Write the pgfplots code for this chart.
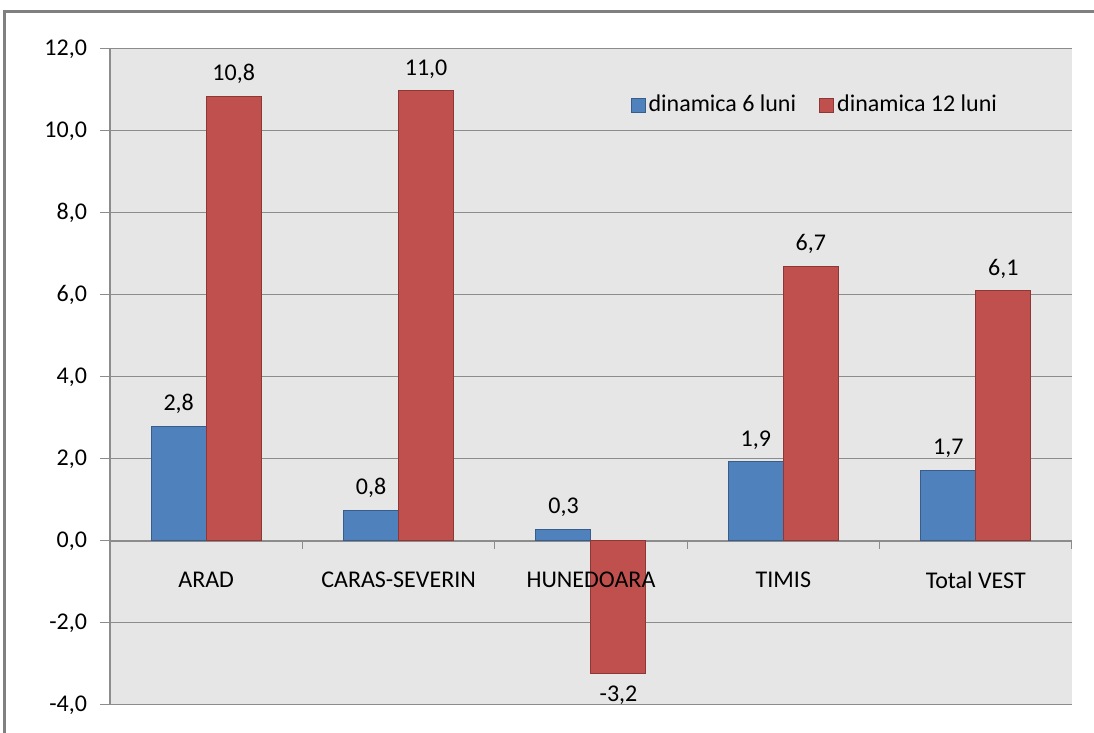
\documentclass[border=0pt]{standalone}
\usepackage{fontspec}
\setmainfont{Carlito}
\usepackage{pgfplots}
\pgfplotsset{compat=1.18}
\definecolor{bgc}{HTML}{E6E6E6}
\definecolor{gridc}{HTML}{8C8C8C}
\definecolor{blueb}{HTML}{4F81BD}
\definecolor{blueedge}{HTML}{385D8A}
\definecolor{redb}{HTML}{C0504D}
\definecolor{rededge}{HTML}{8C3836}
\definecolor{framec}{HTML}{808080}
\begin{document}
\begin{tikzpicture}[font=\fontsize{12}{14}\selectfont]
\useasboundingbox (-55pt,-14pt) rectangle (492pt,352.5pt);
\draw[framec, line width=1.5pt] (-52.5pt,-20pt) -- (-52.5pt,346.5pt) -- (500pt,346.5pt);
\begin{axis}[
  width=481pt, height=328pt, scale only axis,
  at={(0pt,0pt)}, anchor=south west,
  xmin=-0.5, xmax=4.5, ymin=-4, ymax=12,
  axis background/.style={fill=bgc},
  axis x line*=middle, axis y line*=left,
  axis line style={gridc, line width=0.6pt},
  x axis line style={line width=1.1pt},
  /pgf/number format/.cd, fixed, fixed zerofill, precision=1, use comma, assume math mode=true,
  /pgfplots/.cd,
  ytick={-4,-2,...,12},
  ymajorgrids, major grid style={gridc, line width=0.5pt},
  tick align=outside, major tick length=5pt,
  ytick style={gridc, line width=0.5pt},
  yticklabel style={xshift=-3pt},
  xtick={0,1,2,3,4},
  xticklabels={},
  xtick style={draw=none},
  extra x ticks={0.5,1.5,2.5,3.5,4.5},
  extra x tick labels={},
  extra x tick style={xtick style={draw=gridc, line width=0.5pt}, major tick length=4pt, grid=none},
  ybar=0pt, bar width=27.5pt,
  nodes near coords,
  every node near coord/.append style={inner sep=6pt, font=\fontsize{12}{14}\selectfont},
  legend style={at={(0.5345,0.9146)}, anchor=west, draw=none, fill=none,
    legend columns=2, font=\fontsize{12}{14}\selectfont,
    /tikz/every even column/.append style={column sep=10pt},
    nodes={inner sep=1.5pt}},
  clip=false,
]
\addplot[fill=blueb, draw=blueedge, line width=0.5pt,
  legend image code/.code={\draw[fill=blueb, draw=blueedge, line width=0.5pt] (0pt,-3.5pt) rectangle (7pt,3.5pt);}]
  coordinates {(0,2.8) (1,0.75) (2,0.28) (3,1.93) (4,1.73)};
\addplot[fill=redb, draw=rededge, line width=0.5pt,
  legend image code/.code={\draw[fill=redb, draw=rededge, line width=0.5pt] (0pt,-3.5pt) rectangle (7pt,3.5pt);}]
  coordinates {(0,10.84) (1,10.98) (2,-3.22) (3,6.7) (4,6.1)};
\legend{dinamica 6 luni, dinamica 12 luni}
\end{axis}
% overlay axis: category labels drawn on top of the bars
\begin{axis}[
  width=481pt, height=328pt, scale only axis,
  at={(0pt,0pt)}, anchor=south west,
  xmin=-0.5, xmax=4.5, ymin=-4, ymax=12,
  axis x line*=middle, axis y line=none,
  axis line style={draw=none},
  ytick=\empty,
  xtick={0,1,2,3,4},
  xticklabels={ARAD,CARAS-SEVERIN,HUNEDOARA,TIMIS,Total VEST},
  xtick style={draw=none},
  xticklabel style={yshift=-12pt},
  clip=false,
]
\end{axis}
\end{tikzpicture}
\end{document}
